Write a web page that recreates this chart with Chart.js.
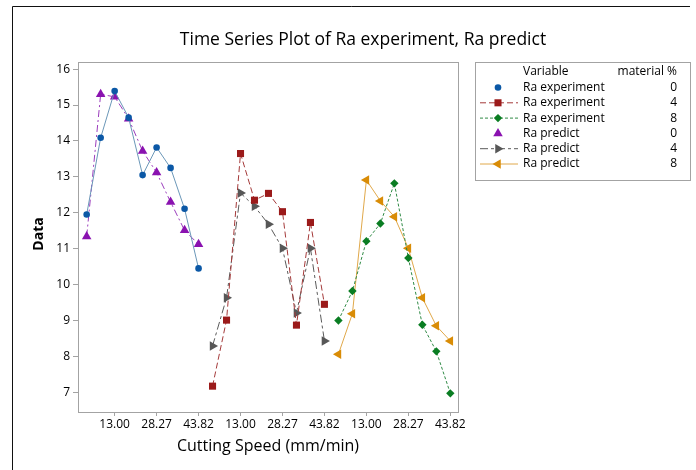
<!DOCTYPE html>
<html>
<head>
<meta charset="utf-8">
<title>Time Series Plot of Ra experiment, Ra predict</title>
<script src="https://cdn.jsdelivr.net/npm/chart.js@4.4.1/dist/chart.umd.min.js"></script>
<style>
  html, body { margin: 0; padding: 0; background: #fff; }
  #wrap { width: 696px; height: 470px; position: relative; }
</style>
</head>
<body>
<div id="wrap"><canvas id="ra-chart"></canvas></div>
<script>
// x axis: 27 runs, 9 per material %, tick every 3rd run
const speedTicks = ['13.00', '28.27', '43.82'];
const runsPerGroup = 9;

// Ra experiment by material %
const raExp0 = [11.95, 14.09, 15.39, 14.65, 13.05, 13.82, 13.25, 12.11, 10.45];
const raExp4 = [7.17, 9.01, 13.65, 12.35, 12.54, 12.03, 8.87, 11.73, 9.45];
const raExp8 = [9.00, 9.82, 11.21, 11.70, 12.82, 10.74, 8.88, 8.14, 6.97];

// Ra predict by material %
const raPred0 = [11.34, 15.30, 15.23, 14.62, 13.72, 13.12, 12.30, 11.51, 11.12];
const raPred4 = [8.29, 9.63, 12.55, 12.18, 11.68, 11.01, 9.21, 11.01, 8.43];
const raPred8 = [8.06, 9.19, 12.91, 12.33, 11.89, 11.01, 9.63, 8.85, 8.43];

const FONT = "'Open Sans', 'Noto Sans', sans-serif";

const series = [
  { label: 'Ra experiment', mat: '0', values: raExp0, group: 0, color: '#0b58a6', line: '#6b97b8',
    style: 'circle', radius: 3.3, rotation: 0, dash: [], legendLine: false },
  { label: 'Ra experiment', mat: '4', values: raExp4, group: 1, color: '#9b1a1a', line: '#a43a3a',
    style: 'rect', radius: 5, rotation: 0, dash: [6, 3], legendLine: true },
  { label: 'Ra experiment', mat: '8', values: raExp8, group: 2, color: '#0a7d22', line: '#2f8a45',
    style: 'rectRot', radius: 4.2, rotation: 0, dash: [3, 2], legendLine: true },
  { label: 'Ra predict', mat: '0', values: raPred0, group: 0, color: '#8a12b0', line: '#9a3cbc',
    style: 'triangle', radius: 5.5, rotation: 0, dash: [7, 3, 2, 3], legendLine: false },
  { label: 'Ra predict', mat: '4', values: raPred4, group: 1, color: '#575757', line: '#5a5a5a',
    style: 'triangle', radius: 5.5, rotation: 90, dash: [8, 3, 3, 3], legendLine: true },
  { label: 'Ra predict', mat: '8', values: raPred8, group: 2, color: '#d98c06', line: '#e0a84a',
    style: 'triangle', radius: 5.5, rotation: -90, dash: [], legendLine: true }
];

const datasets = series.map(s => ({
  label: s.label + ' ' + s.mat,
  data: s.values.map((v, i) => ({ x: s.group * runsPerGroup + i, y: v })),
  borderColor: s.line,
  borderWidth: 1,
  borderDash: s.dash,
  backgroundColor: s.color,
  pointStyle: s.style,
  pointRadius: s.radius,
  pointRotation: s.rotation,
  pointBorderWidth: 0,
  pointBackgroundColor: s.color,
  tension: 0,
  fill: false
}));

// title, axis titles, frame, plot box and the two-column legend
const decorations = {
  id: 'decorations',
  afterDraw(chart) {
    const { ctx, chartArea: a } = chart;
    ctx.save();

    // outer frame
    ctx.strokeStyle = '#111';
    ctx.lineWidth = 1;
    ctx.beginPath();
    ctx.moveTo(12.5, 470);
    ctx.lineTo(12.5, 6.5);
    ctx.lineTo(690, 6.5);
    ctx.stroke();

    // plot box
    ctx.strokeStyle = '#a3a3a3';
    ctx.strokeRect(a.left + 0.5, a.top + 0.5, a.right - a.left, a.bottom - a.top);

    ctx.fillStyle = '#000';
    ctx.textAlign = 'center';
    ctx.textBaseline = 'middle';
    ctx.font = '17.5px ' + FONT;
    ctx.fillText('Time Series Plot of Ra experiment, Ra predict', 363, 40);

    ctx.font = '16px ' + FONT;
    ctx.fillText('Cutting Speed (mm/min)', 268, 446);

    ctx.save();
    ctx.translate(39, 234);
    ctx.rotate(-Math.PI / 2);
    ctx.font = 'bold 14px ' + FONT;
    ctx.fillText('Data', 0, 0);
    ctx.restore();

    // legend
    const lx = 475.5, ly = 62.5, lw = 215, lh = 118;
    ctx.strokeStyle = '#a3a3a3';
    ctx.strokeRect(lx, ly, lw, lh);
    ctx.font = '12px ' + FONT;
    ctx.fillStyle = '#000';
    ctx.textAlign = 'left';
    ctx.fillText('Variable', 523, 72);
    ctx.textAlign = 'right';
    ctx.fillText('material %', 677, 72);

    series.forEach((s, i) => {
      const y = 87.5 + i * 15.3;
      if (s.legendLine) {
        ctx.save();
        ctx.strokeStyle = s.line;
        ctx.lineWidth = 1;
        ctx.setLineDash(s.dash);
        ctx.beginPath();
        ctx.moveTo(480, y);
        ctx.lineTo(518, y);
        ctx.stroke();
        ctx.restore();
      }
      ctx.fillStyle = s.color;
      ctx.strokeStyle = s.color;
      Chart.helpers.drawPoint(ctx, {
        pointStyle: s.style, radius: s.radius, rotation: s.rotation, borderWidth: 0
      }, 498, y);
      ctx.fillStyle = '#000';
      ctx.textAlign = 'left';
      ctx.fillText(s.label, 523, y);
      ctx.textAlign = 'right';
      ctx.fillText(s.mat, 677, y);
    });

    ctx.restore();
  }
};

new Chart(document.getElementById('ra-chart'), {
  type: 'line',
  data: { datasets },
  options: {
    responsive: true,
    maintainAspectRatio: false,
    animation: false,
    layout: { padding: { top: 62, right: 238, bottom: 0, left: 0 } },
    plugins: { legend: { display: false }, title: { display: false }, tooltip: { enabled: false } },
    scales: {
      x: {
        type: 'linear',
        min: -0.62,
        max: 26.55,
        afterFit(scale) { scale.height = 58; },
        afterBuildTicks(scale) {
          const t = [];
          for (let v = 2; v < 27; v += 3) t.push({ value: v });
          scale.ticks = t;
        },
        ticks: {
          autoSkip: false,
          maxRotation: 0,
          padding: 1,
          color: '#000',
          font: { family: FONT, size: 12 },
          callback: v => speedTicks[((v - 2) / 3) % 3]
        },
        grid: { drawOnChartArea: false, tickLength: 4, color: '#a3a3a3' },
        border: { display: false }
      },
      y: {
        min: 6.45,
        max: 16.2,
        afterFit(scale) { scale.width = 78; },
        afterBuildTicks(scale) {
          const t = [];
          for (let v = 7; v <= 16; v++) t.push({ value: v });
          scale.ticks = t;
        },
        ticks: {
          padding: 3,
          color: '#000',
          font: { family: FONT, size: 12 }
        },
        grid: { drawOnChartArea: false, tickLength: 5, color: '#a3a3a3' },
        border: { display: false }
      }
    }
  },
  plugins: [decorations]
});
</script>
</body>
</html>
